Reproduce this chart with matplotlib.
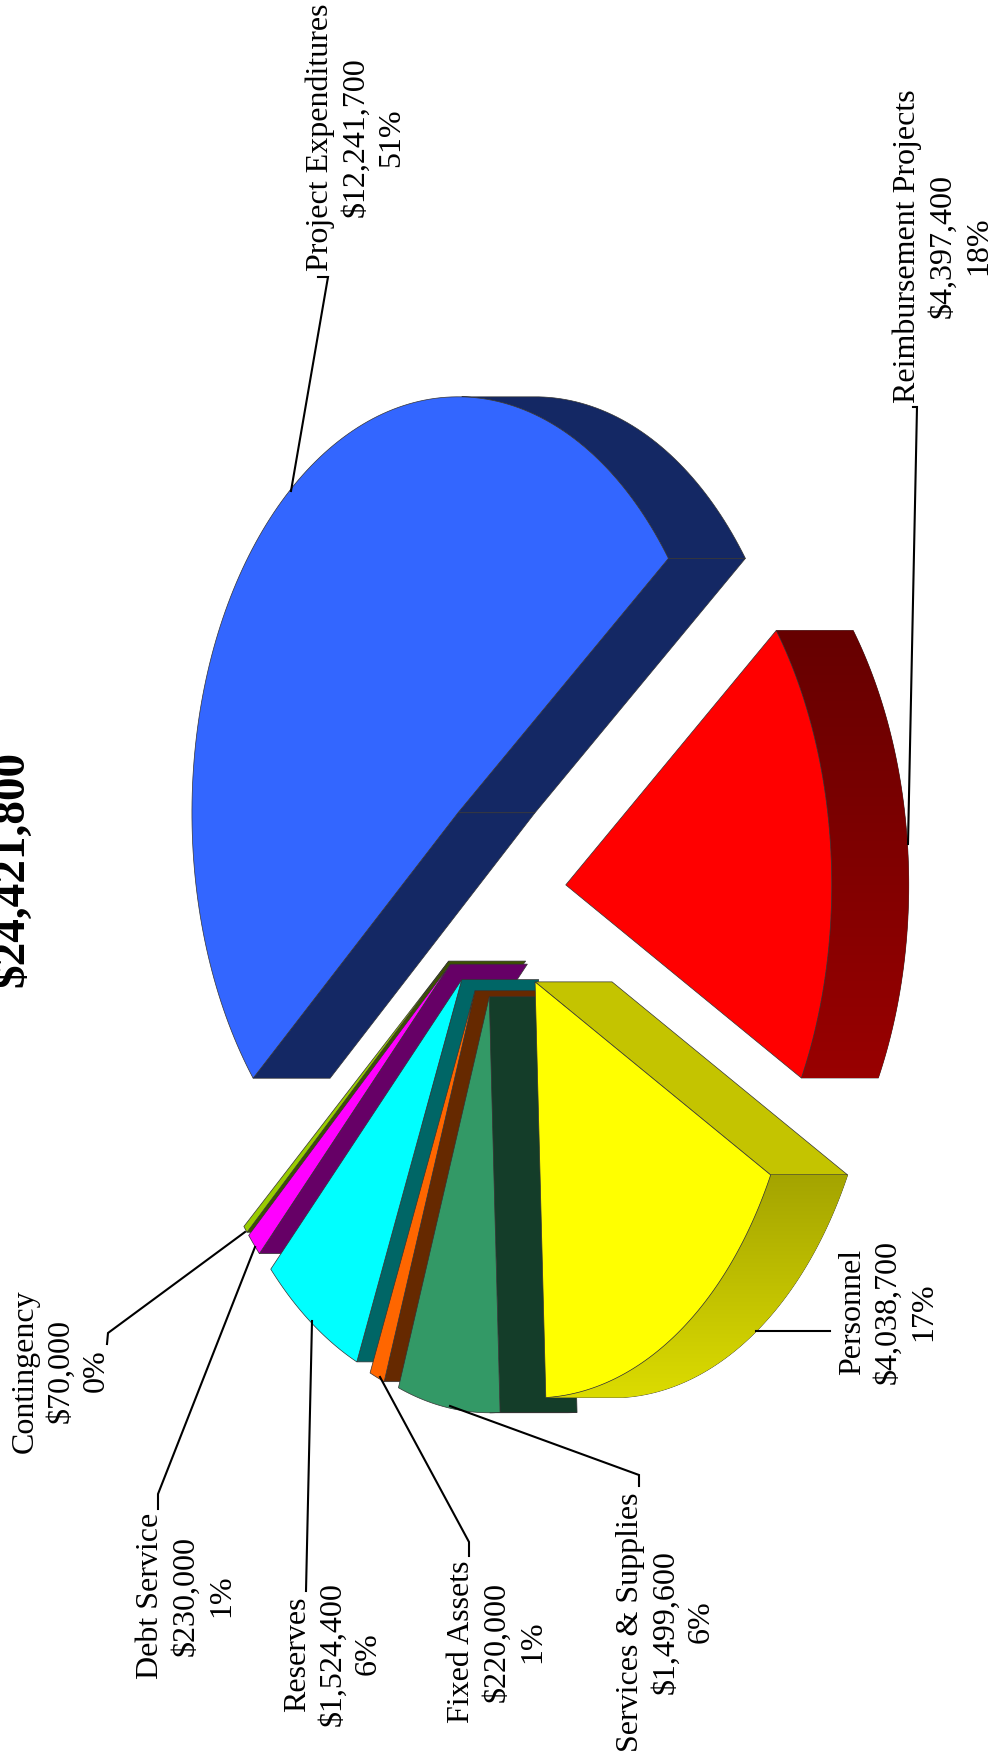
#!/usr/bin/env python3
import matplotlib
matplotlib.use("Agg")
import matplotlib.pyplot as plt
import numpy as np
from matplotlib.colors import LinearSegmentedColormap
from matplotlib.patches import Polygon

TITLE = "$24,421,800"
CATEGORIES = ["Project Expenditures", "Contingency", "Debt Service", "Reserves",
              "Fixed Assets", "Services & Supplies", "Personnel", "Reimbursement Projects"]
VALUES = [12241700, 70000, 230000, 1524400, 220000, 1499600, 4038700, 4397400]
PERCENTS = [51, 0, 1, 6, 1, 6, 17, 18]

TOP_COLORS = ["#3366FF", "#99CC00", "#FF00FF", "#00FFFF", "#FF6600", "#339966", "#FFFF00", "#FF0000"]
FACE_COLORS = ["#142864", "#3D5200", "#660066", "#006666", "#662900", "#143D29", "#C4C400", "#660000"]
# top / bottom colour of the curved side, where it has a gradient
SIDE_GRADIENT = {"Personnel": ("#A4A400", "#DCDC00"), "Reimbursement Projects": ("#660000", "#990000")}

# pie geometry in pixels (picture is the pie turned a quarter, depth runs to the right)
CENTER = (499.5, 895)
RADIUS_X = 266
RADIUS_Y = 416
DEPTH = 77
EXPLODE = 0.25
START_ANGLE = 37.7

# label centre, then the leader line from slice to label
LABELS = {
    "Project Expenditures": ((356, 137.5), [(291, 492), (328, 278), (318, 278)]),
    "Reimbursement Projects": ((943, 246), [(908, 845), (917, 408), (913, 408)]),
    "Personnel": ((888, 1312), [(756, 1332), (830, 1332)]),
    "Services & Supplies": ((666, 1622), [(450, 1407), (639, 1476), (639, 1487)]),
    "Fixed Assets": ((497, 1642), [(380, 1378), (469, 1543), (469, 1557)]),
    "Reserves": ((333, 1654), [(312, 1322), (306, 1592)]),
    "Debt Service": ((186, 1596), [(255, 1248), (158, 1495), (158, 1510)]),
    "Contingency": ((61, 1371), [(245, 1233), (108, 1334), (107, 1345)]),
}
FONT = ["Liberation Serif", "DejaVu Serif"]


def arc_points(center, start, end, n=160):
    t = np.radians(np.linspace(start, end, n))
    return np.column_stack([center[0] + RADIUS_X * np.cos(t), center[1] - RADIUS_Y * np.sin(t)]), t


def draw_gradient(ax, poly, top, bottom):
    cmap = LinearSegmentedColormap.from_list("side", [top, bottom])
    xy = poly.get_xy()
    extent = [xy[:, 0].min(), xy[:, 0].max(), xy[:, 1].max(), xy[:, 1].min()]
    img = ax.imshow(np.linspace(0, 1, 256).reshape(-1, 1), cmap=cmap, extent=extent,
                    aspect="auto", zorder=poly.get_zorder(), interpolation="bilinear")
    img.set_clip_path(poly)


def draw_slice(ax, name, start, end, top_color, face_color, z):
    mid = np.radians((start + end) / 2)
    center = (CENTER[0] + EXPLODE * RADIUS_X * np.cos(mid), CENTER[1] - EXPLODE * RADIUS_Y * np.sin(mid))
    shift = np.array([DEPTH, 0])
    arc, t = arc_points(center, start, end)
    apex = np.array(center)
    line = {"edgecolor": "#333333", "linewidth": 0.5}

    # straight cut faces, only the ones turned to the viewer
    if np.sin(np.radians(start)) > 0:
        pts = [apex, arc[0], arc[0] + shift, apex + shift]
        ax.add_patch(Polygon(pts, facecolor=face_color, zorder=z, **line))
    if np.sin(np.radians(end)) < 0:
        pts = [apex, arc[-1], arc[-1] + shift, apex + shift]
        ax.add_patch(Polygon(pts, facecolor=face_color, zorder=z, **line))

    # curved side
    vis = arc[np.cos(t) >= 0]
    if len(vis) > 1:
        pts = np.vstack([vis, (vis + shift)[::-1]])
        side = Polygon(pts, facecolor=face_color, zorder=z, **line)
        ax.add_patch(side)
        if name in SIDE_GRADIENT:
            draw_gradient(ax, side, *SIDE_GRADIENT[name])

    # top
    ax.add_patch(Polygon(np.vstack([apex, arc]), facecolor=top_color, zorder=z + 0.5, **line))


def main():
    plt.rcParams["font.family"] = FONT
    fig = plt.figure(figsize=(9.98, 17.58), dpi=100, facecolor="white")
    ax = fig.add_axes([0, 0, 1, 1])

    sweeps = np.array(VALUES) / sum(VALUES) * 360
    starts = START_ANGLE + np.concatenate([[0], np.cumsum(sweeps)[:-1]])
    for i, name in enumerate(CATEGORIES):
        draw_slice(ax, name, starts[i], starts[i] + sweeps[i], TOP_COLORS[i], FACE_COLORS[i], 2 + i)

    for name, value, pct in zip(CATEGORIES, VALUES, PERCENTS):
        (x, y), leader = LABELS[name]
        text = f"{name}\n${value:,}\n{pct}%"
        ax.text(x, y, text, rotation=90, ha="center", va="center", multialignment="center",
                fontsize=23, linespacing=1.3, color="black", zorder=20)
        ax.plot(*zip(*leader), color="black", linewidth=1.5, zorder=15, solid_joinstyle="miter")

    ax.text(-9, 869, TITLE, rotation=90, ha="left", va="center", fontsize=34, fontweight="bold", zorder=20)

    ax.set_xlim(0, 998)
    ax.set_ylim(1758, 0)
    ax.axis("off")
    fig.savefig("out.png", dpi=100, facecolor="white")
    plt.close(fig)


if __name__ == "__main__":
    main()
